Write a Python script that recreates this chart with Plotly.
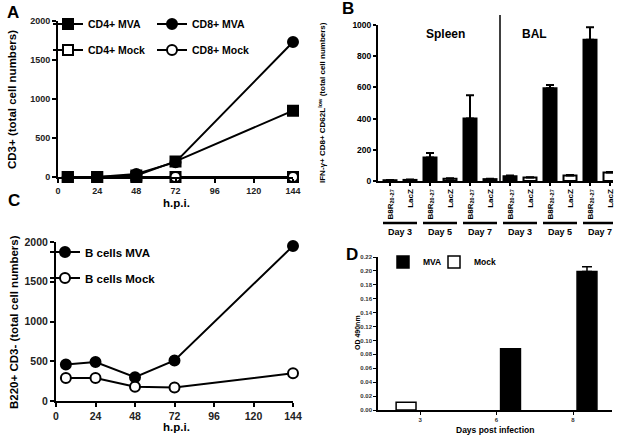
import plotly.graph_objects as go

W, H = 619, 438
FONT = "Liberation Sans, Arial, sans-serif"


def px(x):
    return x / W


def py(y):
    return 1 - y / H


# ---------------- data ----------------
# Panel A
hpi = [6, 24, 48, 72, 144]
cd4_mva = [0, 0, 20, 200, 850]
cd8_mva = [0, 0, 40, 190, 1730]
cd4_mock = [0, 0, 0, 0, 0]
cd8_mock = [0, 0, 0, 0, 0]
hpi_ticks = [0, 24, 48, 72, 96, 120, 144]

# Panel B
b_positions = list(range(12))
b_labels = ["B8R<sub>20-27</sub>", "LacZ"] * 6
b_values = [5, 7, 150, 15, 400, 12, 30, 22, 595, 35, 905, 55]
b_err = [2, 2, 30, 3, 150, 3, 5, 2, 20, 3, 80, 3]
b_fill = ["black", "white"] * 6
b_days = ["Day 3", "Day 5", "Day 7", "Day 3", "Day 5", "Day 7"]
b_tissues = ["Spleen", "BAL"]

# Panel C
c_mva = [460, 490, 300, 510, 1950]
c_mock = [290, 290, 180, 170, 350]

# Panel D
d_pos = [0, 1, 2]
d_days = ["3", "6", "8"]
d_mva = [None, 0.088, 0.199]
d_mva_err = [0, 0, 0.007]
d_mock = [0.011, None, None]

fig = go.Figure()


def line_trace(x, y, name, symbol, filled, xa, ya, legend):
    return go.Scatter(
        x=x, y=y, name=name, mode="lines+markers",
        line=dict(color="black", width=2),
        marker=dict(symbol=symbol, size=10,
                    color="black" if filled else "white",
                    line=dict(color="black", width=2)),
        xaxis=xa, yaxis=ya, legend=legend, cliponaxis=False,
    )


# Panel A
fig.add_trace(line_trace(hpi, cd4_mock, "CD4+ Mock", "square", False, "x", "y", "legend2"))
fig.add_trace(line_trace(hpi, cd8_mock, "CD8+ Mock", "circle", False, "x", "y", "legend4"))
fig.add_trace(line_trace(hpi, cd4_mva, "CD4+ MVA", "square", True, "x", "y", "legend"))
fig.add_trace(line_trace(hpi, cd8_mva, "CD8+ MVA", "circle", True, "x", "y", "legend3"))

# Panel B
fig.add_trace(go.Bar(
    x=b_positions, y=b_values, width=0.65,
    marker=dict(color=b_fill, line=dict(color="black", width=2)),
    error_y=dict(type="data", symmetric=False, array=b_err, arrayminus=[0] * 12,
                 color="black", thickness=2, width=4),
    xaxis="x2", yaxis="y2", showlegend=False,
))

# Panel C
fig.add_trace(line_trace(hpi, c_mva, "B cells MVA", "circle", True, "x3", "y3", "legend5"))
fig.add_trace(line_trace(hpi, c_mock, "B cells Mock", "circle", False, "x3", "y3", "legend6"))

# Panel D
fig.add_trace(go.Bar(
    x=d_pos, y=d_mva, name="MVA", width=0.26, offset=0.053,
    marker=dict(color="black", line=dict(color="black", width=1.5)),
    error_y=dict(type="data", symmetric=False, array=d_mva_err, arrayminus=[0, 0, 0],
                 color="black", thickness=1.5, width=5),
    xaxis="x4", yaxis="y4", legend="legend7",
))
fig.add_trace(go.Bar(
    x=d_pos, y=d_mock, name="Mock", width=0.26, offset=-0.313,
    marker=dict(color="white", line=dict(color="black", width=1.5)),
    xaxis="x4", yaxis="y4", legend="legend8",
))

axis_common = dict(showline=True, linecolor="black", linewidth=2, ticks="outside",
                   tickcolor="black", tickwidth=1.5, ticklen=4, showgrid=False,
                   zeroline=False, fixedrange=True, automargin=False)
tickfont = dict(family=FONT, size=9, color="#222", weight="bold")

layout = dict(
    width=W, height=H, margin=dict(l=0, r=0, t=0, b=0, autoexpand=False),
    paper_bgcolor="white", plot_bgcolor="white", barmode="overlay",
    font=dict(family=FONT, color="black"),
    xaxis=dict(axis_common, domain=[px(58), px(293)], range=[0, 144],
               tickvals=hpi_ticks, tickfont=tickfont, anchor="y"),
    yaxis=dict(axis_common, domain=[py(177), py(21)], range=[0, 2000],
               tickvals=[0, 500, 1000, 1500, 2000], tickfont=tickfont, anchor="x"),
    xaxis2=dict(axis_common, domain=[px(378), px(613)], range=[-0.6, 11.15],
                tickvals=b_positions, ticktext=b_labels, tickangle=-90, ticklen=3,
                tickfont=dict(family=FONT, size=8, color="black", weight="bold"), anchor="y2"),
    yaxis2=dict(axis_common, domain=[py(181), py(25)], range=[0, 1000],
                tickvals=[0, 200, 400, 600, 800, 1000], ticklen=3,
                tickfont=dict(family=FONT, size=8.5, color="black", weight="bold"), anchor="x2"),
    xaxis3=dict(axis_common, domain=[px(56), px(293)], range=[0, 144],
                tickvals=hpi_ticks, anchor="y3",
                tickfont=dict(family=FONT, size=10.5, color="#222", weight="bold")),
    yaxis3=dict(axis_common, domain=[py(401), py(242)], range=[0, 2000],
                tickvals=[0, 500, 1000, 1500, 2000], anchor="x3",
                tickfont=dict(family=FONT, size=10.5, color="#222", weight="bold")),
    xaxis4=dict(axis_common, domain=[px(378), px(612)], range=[-0.55, 2.51],
                tickvals=d_pos, ticktext=d_days, linewidth=1.5, ticklen=3, tickwidth=1,
                tickfont=dict(family=FONT, size=6, color="#333", weight="bold"), anchor="y4"),
    yaxis4=dict(axis_common, domain=[py(410), py(257)], range=[0, 0.22],
                dtick=0.02, tickformat=".2f", linewidth=1.5, ticklen=3, tickwidth=1,
                tickfont=dict(family=FONT, size=6, color="#333", weight="bold"), anchor="x4"),
)


def legend_at(x, y, size=12, orientation="v"):
    return dict(x=px(x), y=py(y), xanchor="left", yanchor="middle",
                bgcolor="rgba(0,0,0,0)", borderwidth=0, orientation=orientation,
                font=dict(family=FONT, size=size, color="black", weight="bold"),
                itemwidth=30, itemclick=False, itemdoubleclick=False)


layout["legend"] = legend_at(48, 24, 10.5)
layout["legend2"] = legend_at(48, 50, 10.5)
layout["legend3"] = legend_at(152, 24, 10.5)
layout["legend4"] = legend_at(152, 50, 10.5)
layout["legend5"] = legend_at(45, 252, 11.5)
layout["legend6"] = legend_at(45, 278, 11.5)
layout["legend7"] = legend_at(383, 262, 8.5)
layout["legend8"] = legend_at(434, 262, 8.5)

annotations = []


def ann(text, x, y, size, angle=0, weight="bold", xanchor="center"):
    annotations.append(dict(text=text, x=px(x), y=py(y), xref="paper", yref="paper",
                            showarrow=False, textangle=angle, xanchor=xanchor, yanchor="middle",
                            font=dict(family=FONT, size=size, color="black", weight=weight)))


# panel letters
ann("A", 13, 12, 17)
ann("B", 348, 9, 17)
ann("C", 14, 200, 17)
ann("D", 352, 254, 17)
# axis titles
ann("CD3+ (total cell numbers)", 12, 100, 11.5, -90)
ann("h.p.i.", 176, 203, 11.5)
ann("IFN-γ+ CD8+ CD62L<sup>low</sup> (total cell numbers)", 322, 103, 8, -90)
ann("B220+ CD3- (total cell numbers)", 14, 322, 11.5, -90)
ann("h.p.i.", 176, 427, 11.5)
ann("OD 490nm", 357, 333, 7, -90)
ann("Days post infection", 495, 430, 8.5)
# tissue labels
ann(b_tissues[0], 445, 34, 12)
ann(b_tissues[1], 534, 34, 12)

shapes = []
# separator between spleen and BAL
shapes.append(dict(type="line", xref="x2", yref="paper", x0=5.5, x1=5.5,
                   y0=py(181), y1=py(15), line=dict(color="black", width=1.5)))
for i, d in enumerate(b_days):
    c = 2 * i + 0.5
    shapes.append(dict(type="line", xref="x2", yref="paper", x0=c - 0.85, x1=c + 0.85,
                       y0=py(223), y1=py(223), line=dict(color="black", width=2.5)))
    annotations.append(dict(text=d, x=c, y=py(232), xref="x2", yref="paper", showarrow=False,
                            xanchor="center", yanchor="middle",
                            font=dict(family=FONT, size=9, color="black", weight="bold")))

layout["annotations"] = annotations
layout["shapes"] = shapes
fig.update_layout(**layout)
fig.write_html("out.html", config={"displayModeBar": False},
               post_script="document.body.style.margin='0';document.body.style.overflow='hidden';")
